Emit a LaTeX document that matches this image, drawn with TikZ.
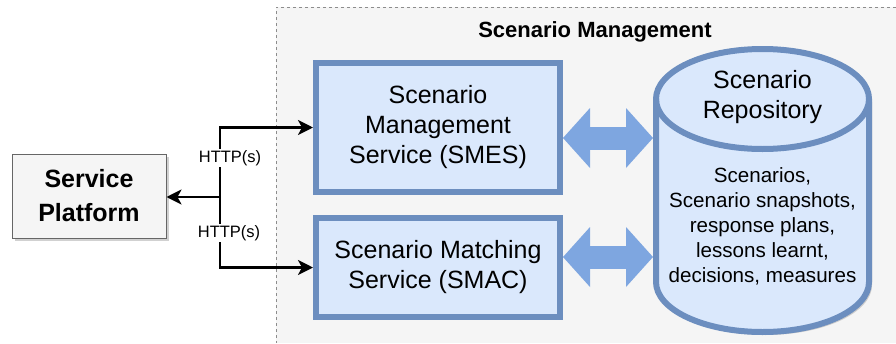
\documentclass[tikz,border=0pt]{standalone}
\usepackage{fontspec}
\setmainfont{Liberation Sans}
\usetikzlibrary{arrows.meta,shadows}

\definecolor{boxfill}{HTML}{DAE8FC}
\definecolor{boxline}{HTML}{6C8EBF}
\definecolor{arrowblue}{HTML}{7EA6E0}
\definecolor{groupfill}{HTML}{F5F5F5}
\definecolor{groupline}{HTML}{8C8C8C}
\definecolor{platline}{HTML}{666666}

\tikzset{
  softshadow/.style={drop shadow={shadow xshift=3pt, shadow yshift=-3pt, fill=black!40, opacity=0.45}},
  servicebox/.style={rectangle, draw=boxline, fill=boxfill, line width=6pt,
    minimum width=244pt, align=center, inner sep=0pt, softshadow,
    font=\fontsize{25}{30}\selectfont},
  platformbox/.style={rectangle, draw=platline, fill=groupfill, line width=1pt,
    minimum width=154pt, minimum height=84pt, align=center, inner sep=0pt, softshadow,
    font=\bfseries\fontsize{25}{34}\selectfont},
  httpline/.style={line width=2.6pt, -{Stealth[length=15pt, width=15pt, inset=4pt]}},
  httplabel/.style={fill=white, inner sep=1pt, font=\fontsize{16.5}{19}\selectfont},
  dataflow/.style={line width=23pt, arrowblue,
    {Triangle[length=27pt, width=60pt, line width=0pt]}-{Triangle[length=27pt, width=60pt, line width=0pt]}},
}

\begin{document}
\begin{tikzpicture}[x=1pt, y=1pt]
  \useasboundingbox[fill=white] (0,0) rectangle (896,-343);

  % Scenario Management group (open to the right and bottom)
  \fill[groupfill] (276,-7) rectangle (896,-343);
  \draw[groupline, line width=0.8pt, dash pattern=on 3pt off 3pt]
    (896,-7) -- (276,-7) -- (276,-343);
  \node[font=\bfseries\fontsize{22}{26}\selectfont, anchor=base] (title)
    at (595,-37) {Scenario Management};

  % services
  \node[servicebox, minimum height=129pt] (smes) at (438,-127.5)
    {Scenario\\Management\\Service (SMES)};
  \node[servicebox, minimum height=99pt] (smac) at (438,-267.5)
    {Scenario Matching\\Service (SMAC)};

  % Scenario Repository cylinder
  \path[draw=boxline, fill=boxfill, line width=6pt, softshadow]
    (656,-99) -- (656,-282)
    arc[start angle=180, end angle=360, x radius=106.5, y radius=50]
    -- (869,-99)
    arc[start angle=0, end angle=180, x radius=106.5, y radius=50] -- cycle;
  \draw[boxline, line width=6pt]
    (656,-99) arc[start angle=180, end angle=360, x radius=106.5, y radius=50];
  % base anchor sits on the last line of a multi-line node
  \node[anchor=base, align=center, font=\fontsize{25}{30}\selectfont] (repotitle)
    at (762.5,-118) {Scenario\\Repository};
  \node[anchor=base, align=center, font=\fontsize{20.6}{25}\selectfont] (repocontent)
    at (762.5,-282) {Scenarios,\\Scenario snapshots,\\response plans,\\lessons learnt,\\decisions, measures};
  \coordinate (repoA) at (653,-138);
  \coordinate (repoB) at (653,-257);

  % data exchange between services and repository
  \draw[dataflow] ([yshift=-10.5pt]smes.east) -- (repoA);
  \draw[dataflow] ([yshift=10.5pt]smac.east) -- (repoB);

  % Service Platform and HTTP(s) links
  \node[platformbox] (platform) at (89,-196) {Service\\Platform};
  \coordinate (hub) at (220,-197);
  \draw[httpline] (hub) -- (platform.east |- hub);
  \draw[httpline] (hub) |- (smes.west);
  \draw[httpline] (hub) |- (smac.west);
  \node[httplabel] (lblup) at (230,-158) {HTTP(s)};
  \node[httplabel] (lbldown) at (229,-233) {HTTP(s)};
\end{tikzpicture}
\end{document}
